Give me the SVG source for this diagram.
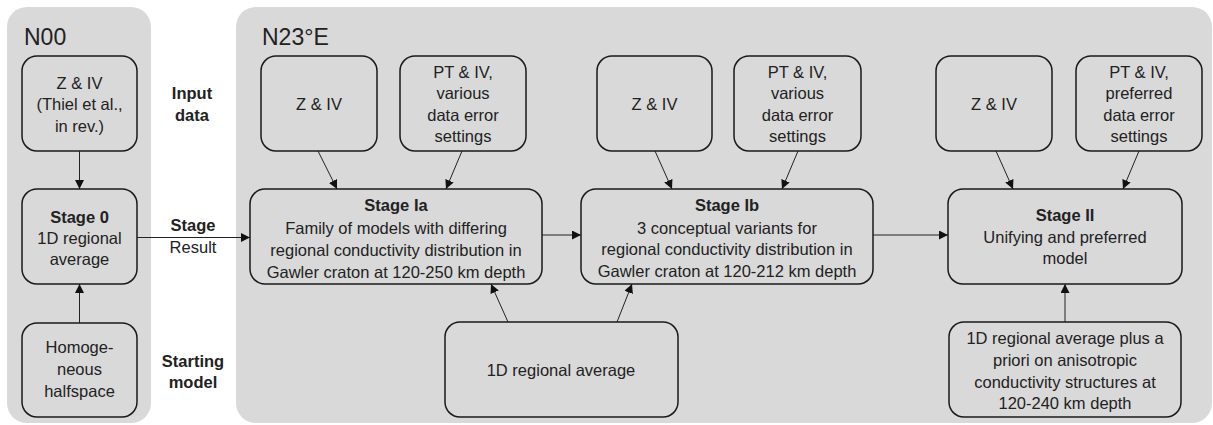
<svg xmlns="http://www.w3.org/2000/svg" width="1213" height="425" viewBox="0 0 1213 425">
<style>
.panel{fill:#d9d9d9;stroke:none}
.node{fill:#d9d9d9;stroke:#1a1a1a;stroke-width:1.5}
text{font-family:"Liberation Sans",Arial,sans-serif;fill:#222;font-size:16.5px;text-anchor:middle}
.b{font-weight:bold}
.title{font-size:23px;text-anchor:start}
.conn{stroke:#222;stroke-width:1;fill:none;marker-end:url(#ah)}
</style>
<defs>
<marker id="ah" viewBox="0 0 10 10" refX="10" refY="5" markerWidth="9" markerHeight="9" markerUnits="userSpaceOnUse" orient="auto">
<path d="M0,0 L10,5 L0,10 z" fill="#111"/>
</marker>
</defs>
<rect class="panel" x="7" y="7" width="144" height="416" rx="20"/>
<rect class="panel" x="236" y="7" width="976" height="416" rx="20"/>
<text class="title" x="24" y="45">N00</text>
<text class="title" x="262" y="45">N23°E</text>
<g id="labels">
<text class="b" x="192" y="99">Input</text>
<text class="b" x="192" y="121">data</text>
<text class="b" x="193" y="231">Stage</text>
<text x="193" y="253">Result</text>
<text class="b" x="193" y="367">Starting</text>
<text class="b" x="193" y="388">model</text>
</g>
<g id="n00-input">
<rect class="node" x="22" y="56" width="115" height="95" rx="15"/>
<text x="79.5" y="89">Z &amp; IV</text>
<text x="79.5" y="110">(Thiel et al.,</text>
<text x="79.5" y="132">in rev.)</text>
</g>
<g id="stage0">
<rect class="node" x="22" y="189" width="115" height="95" rx="15"/>
<text class="b" x="79.5" y="222.5">Stage 0</text>
<text x="79.5" y="243.5">1D regional</text>
<text x="79.5" y="264.5">average</text>
</g>
<g id="homog">
<rect class="node" x="22" y="323" width="115" height="94" rx="15"/>
<text x="79.5" y="352.5">Homoge-</text>
<text x="79.5" y="375">neous</text>
<text x="79.5" y="397">halfspace</text>
</g>
<g id="ziv1">
<rect class="node" x="261" y="56" width="116" height="95" rx="15"/>
<text x="319" y="109.5">Z &amp; IV</text>
</g>
<g id="ptiv1">
<rect class="node" x="400" y="56" width="126" height="95" rx="15"/>
<text x="463" y="77.5">PT &amp; IV,</text>
<text x="463" y="99">various</text>
<text x="463" y="120.5">data error</text>
<text x="463" y="142">settings</text>
</g>
<g id="stageIa">
<rect class="node" x="250" y="189" width="292" height="95" rx="15"/>
<text class="b" x="396" y="210.5">Stage Ia</text>
<text x="396" y="233.5">Family of models with differing</text>
<text x="396" y="255.5">regional conductivity distribution in</text>
<text x="396" y="277.5">Gawler craton at 120-250 km depth</text>
</g>
<g id="ziv2">
<rect class="node" x="597" y="56" width="115" height="95" rx="15"/>
<text x="654.5" y="109.5">Z &amp; IV</text>
</g>
<g id="ptiv2">
<rect class="node" x="734" y="56" width="127" height="95" rx="15"/>
<text x="797.5" y="77.5">PT &amp; IV,</text>
<text x="797.5" y="99">various</text>
<text x="797.5" y="120.5">data error</text>
<text x="797.5" y="142">settings</text>
</g>
<g id="stageIb">
<rect class="node" x="581" y="189" width="292" height="95" rx="15"/>
<text class="b" x="727" y="210.5">Stage Ib</text>
<text x="727" y="233.5">3 conceptual variants for</text>
<text x="727" y="254.5">regional conductivity distribution in</text>
<text x="727" y="276.5">Gawler craton at 120-212 km depth</text>
</g>
<g id="ziv3">
<rect class="node" x="936" y="56" width="116" height="95" rx="15"/>
<text x="994" y="109.5">Z &amp; IV</text>
</g>
<g id="ptiv3">
<rect class="node" x="1076" y="56" width="126" height="95" rx="15"/>
<text x="1139" y="77.5">PT &amp; IV,</text>
<text x="1139" y="99">preferred</text>
<text x="1139" y="120.5">data error</text>
<text x="1139" y="142">settings</text>
</g>
<g id="stageII">
<rect class="node" x="948" y="189" width="234" height="95" rx="15"/>
<text class="b" x="1065" y="220.5">Stage II</text>
<text x="1065" y="243">Unifying and preferred</text>
<text x="1065" y="264">model</text>
</g>
<g id="avg1d">
<rect class="node" x="445" y="322" width="233" height="95" rx="15"/>
<text x="561" y="375.5">1D regional average</text>
</g>
<g id="apriori">
<rect class="node" x="949" y="322" width="232" height="95" rx="15"/>
<text x="1065" y="343.5">1D regional average plus a</text>
<text x="1065" y="366">priori on anisotropic</text>
<text x="1065" y="387.5">conductivity structures at</text>
<text x="1065" y="409">120-240 km depth</text>
</g>
<g id="connectors">
<line class="conn" x1="79.5" y1="151" x2="79.5" y2="189"/>
<line class="conn" x1="79.5" y1="323" x2="79.5" y2="284"/>
<line class="conn" x1="137" y1="237.5" x2="250" y2="237.5"/>
<line class="conn" x1="542" y1="235" x2="581" y2="235"/>
<line class="conn" x1="873" y1="235" x2="948" y2="235"/>
<line class="conn" x1="318" y1="151" x2="337" y2="189"/>
<line class="conn" x1="462" y1="151" x2="446" y2="189"/>
<line class="conn" x1="655" y1="151" x2="672" y2="189"/>
<line class="conn" x1="798" y1="151" x2="782" y2="189"/>
<line class="conn" x1="996" y1="151" x2="1013" y2="189"/>
<line class="conn" x1="1139" y1="151" x2="1123" y2="189"/>
<line class="conn" x1="508" y1="322" x2="491" y2="284"/>
<line class="conn" x1="617" y1="322" x2="632" y2="284"/>
<line class="conn" x1="1065" y1="322" x2="1065" y2="284"/>
</g>
</svg>
